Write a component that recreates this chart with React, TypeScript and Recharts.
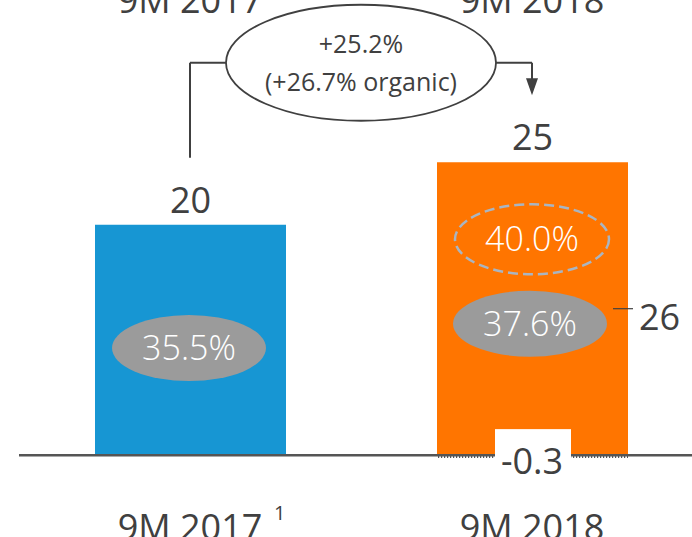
import React from "react";
import { BarChart, Bar, XAxis, YAxis, Cell, LabelList, ReferenceLine, ReferenceDot } from "recharts";

const categories = ["9M 2017", "9M 2018"];
const superscripts = ["1", ""];
const ebitda = [19.9, 25.3];
const adjustments = [0, -0.3];
const ebitdaLabels = ["20", "25"];
const adjustmentLabels = ["", "-0.3"];
const marginLabels = ["35.5%", "37.6%"];
const marginLevels = [9.25, 11.35];
const targetLabel = "40.0%";
const targetLevel = 18.65;
const sideLabel = "26";
const sideLevel = 12.65;
const growthLabel = "+25.2%";
const organicLabel = "(+26.7% organic)";
const connectorLevel = 33.9;
const connectorStart = 25.7;
const arrowTip = 31.1;
const domainTop = 35;
const barColors = ["#1796d3", "#ff7500"];

const FONT = "'Open Sans', 'DejaVu Sans', sans-serif";
const TEXT = "#404040";

const data = categories.map((c, i) => ({ name: c, value: ebitda[i], adj: adjustments[i] }));

const BottomTick = (props: any) => {
  const { x, y, payload } = props;
  const i = categories.indexOf(payload.value);
  return (
    <g>
      <text x={x} y={y} dy={19} textAnchor="middle" fontFamily={FONT} fontSize={36} fill={TEXT}>
        {payload.value}
      </text>
      {superscripts[i] ? (
        <text x={x + 84} y={y} dy={-1} fontFamily={FONT} fontSize={20} fill={TEXT}>
          {superscripts[i]}
        </text>
      ) : null}
    </g>
  );
};

const makeTopLabel = (label: string) => (props: any) => {
  const { cx, cy } = props;
  return (
    <text x={cx} y={cy - 37} textAnchor="middle" fontFamily={FONT} fontSize={36} fill={TEXT}>
      {label}
    </text>
  );
};

const ValueLabel = (props: any) => {
  const { x, y, width, index } = props;
  return (
    <text x={x + width / 2} y={y - 12} textAnchor="middle" fontFamily={FONT} fontSize={36} fill={TEXT}>
      {ebitdaLabels[index]}
    </text>
  );
};

const DotsShape = (props: any) => {
  const { x, y, width, height } = props;
  const h = Math.abs(height || 0);
  if (!h) return null;
  const top = height < 0 ? y + height : y;
  return (
    <g>
      <defs>
        <pattern id="negDots" width="3" height="3" patternUnits="userSpaceOnUse">
          <rect x="0" y="0" width="1.2" height="2" fill="#555" />
        </pattern>
      </defs>
      <rect x={x} y={top} width={width} height={h} fill="url(#negDots)" />
    </g>
  );
};

const makeEllipse = (label: string, dx: number, filled: boolean) => (props: any) => {
  const { cx, cy } = props;
  return (
    <g>
      {filled ? (
        <ellipse cx={cx + dx} cy={cy} rx={77} ry={33} fill="#9b9b9b" />
      ) : (
        <ellipse cx={cx + dx} cy={cy} rx={77} ry={35} fill="none" stroke="#a9b5c2" strokeWidth={2.5} strokeDasharray="10 5" />
      )}
      <text x={cx + dx} y={cy + 12} textAnchor="middle" fontFamily={FONT} fontSize={34} fontWeight={300} fill="#ffffff">
        {label}
      </text>
    </g>
  );
};

const SideMarker = (props: any) => {
  const { cx, cy } = props;
  return (
    <g>
      <line x1={cx + 81} y1={cy} x2={cx + 101} y2={cy} stroke="#404040" strokeWidth={1.2} />
      <text x={cx + 107} y={cy + 21} fontFamily={FONT} fontSize={36} fill={TEXT}>
        {sideLabel}
      </text>
    </g>
  );
};

const AdjLabel = (props: any) => {
  const { cx, cy } = props;
  return (
    <g>
      <rect x={cx - 37} y={cy - 26} width={76} height={36} fill="#ffffff" />
      <text x={cx} y={cy + 19} textAnchor="middle" fontFamily={FONT} fontSize={36} fill={TEXT}>
        {adjustmentLabels[1]}
      </text>
    </g>
  );
};

const GrowthShape = (props: any) => {
  const { x1, y1, x2 } = props;
  const mx = (x1 + x2) / 2;
  return (
    <g>
      <line x1={x1} y1={y1} x2={x2} y2={y1} stroke="#404040" strokeWidth={2} />
      <ellipse cx={mx} cy={y1} rx={135} ry={58} fill="#ffffff" stroke="#404040" strokeWidth={1.8} />
      <text x={mx} y={y1 - 10} textAnchor="middle" fontFamily={FONT} fontSize={25} fill={TEXT}>
        {growthLabel}
      </text>
      <text x={mx} y={y1 + 28} textAnchor="middle" fontFamily={FONT} fontSize={25} fill={TEXT}>
        {organicLabel}
      </text>
    </g>
  );
};

const ArrowShape = (props: any) => {
  const { x1, y1, x2, y2 } = props;
  const top = Math.min(y1, y2);
  const bottom = Math.max(y1, y2);
  return (
    <g>
      <line x1={x1} y1={top} x2={x1} y2={bottom - 12} stroke="#404040" strokeWidth={2} />
      <polygon points={`${x1 - 6},${bottom - 17} ${x1 + 6},${bottom - 17} ${x1},${bottom}`} fill="#404040" />
    </g>
  );
};

export default function App() {
  return (
    <div style={{ position: "absolute", left: 0, top: 0, width: 692, height: 537, background: "#fff" }}>
      <BarChart
        width={692}
        height={537}
        data={data}
        stackOffset="sign"
        margin={{ top: 50, right: -11, bottom: 0, left: 19 }}
        barCategoryGap={0}
      >
        <XAxis dataKey="name" height={24} axisLine={false} tickLine={false} interval={0} tick={<BottomTick />} />
        <YAxis hide domain={[-5, domainTop]} allowDataOverflow />
        <Bar dataKey="value" stackId="a" barSize={191} isAnimationActive={false}>
          {data.map((d, i) => (
            <Cell key={d.name} fill={barColors[i]} />
          ))}
          <LabelList dataKey="value" content={<ValueLabel />} />
        </Bar>
        <Bar dataKey="adj" stackId="a" barSize={191} isAnimationActive={false} shape={<DotsShape />} />
        <ReferenceLine y={0} stroke="#555555" strokeWidth={2.5} />
        <ReferenceLine
          segment={[{ x: categories[0], y: connectorStart }, { x: categories[0], y: connectorLevel }]}
          stroke="#404040"
          strokeWidth={2}
        />
        <ReferenceLine
          segment={[{ x: categories[1], y: connectorLevel }, { x: categories[1], y: arrowTip }]}
          shape={<ArrowShape />}
        />
        <ReferenceLine
          segment={[{ x: categories[0], y: connectorLevel }, { x: categories[1], y: connectorLevel }]}
          shape={<GrowthShape />}
        />
        <ReferenceDot x={categories[0]} y={domainTop} shape={makeTopLabel(categories[0])} />
        <ReferenceDot x={categories[1]} y={domainTop} shape={makeTopLabel(categories[1])} />
        <ReferenceDot x={categories[0]} y={marginLevels[0]} shape={makeEllipse(marginLabels[0], -1, true)} />
        <ReferenceDot x={categories[1]} y={marginLevels[1]} shape={makeEllipse(marginLabels[1], -2, true)} />
        <ReferenceDot x={categories[1]} y={targetLevel} shape={makeEllipse(targetLabel, 0, false)} />
        <ReferenceDot x={categories[1]} y={sideLevel} shape={<SideMarker />} />
        <ReferenceDot x={categories[1]} y={0} shape={<AdjLabel />} />
      </BarChart>
    </div>
  );
}
